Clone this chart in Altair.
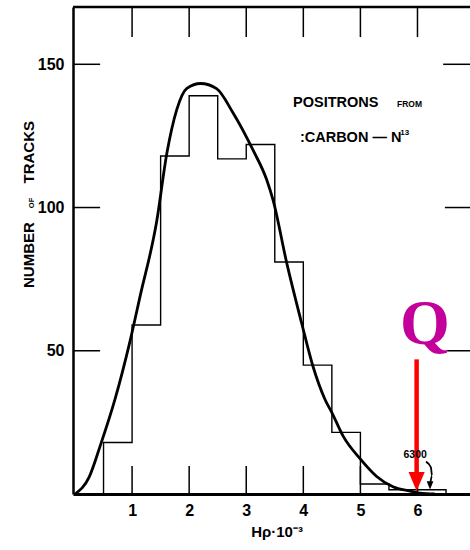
import altair as alt
import pandas as pd

# ---- data ----
bin_edges = [0.5, 1.0, 1.5, 2.0, 2.5, 3.0, 3.5, 4.0, 4.5, 5.0, 5.5, 6.0, 6.5]
bin_counts = [18, 59, 118, 139, 117, 122, 81, 45, 21.5, 3.5, 1.5, 1.5]

curve_x = [0.0, 0.25, 0.44, 0.7, 0.96, 1.14, 1.43, 1.61, 1.78, 1.96, 2.2, 2.48,
           2.77, 3.12, 3.36, 3.47, 3.71, 3.97, 4.17, 4.38, 4.5, 4.7, 4.99, 5.28,
           5.57, 5.87, 6.04, 6.3]
curve_y = [0.0, 6.0, 16.7, 33.0, 53.0, 69.0, 95.0, 119.0, 134.0, 141.6, 143.3, 141.5,
           133.0, 120.0, 109.6, 102.6, 80.6, 59.7, 44.5, 33.0, 28.4, 20.1, 12.4, 6.2,
           2.5, 1.0, 0.3, 0.0]

x_tick_labels = [1, 2, 3, 4, 5, 6]
y_tick_labels = [50, 100, 150]

X_DOMAIN = [-0.035, 6.92]
Y_DOMAIN = [0, 170]

FONT = "Liberation Sans"
xs = alt.Scale(domain=X_DOMAIN, nice=False, zero=False)
ys = alt.Scale(domain=Y_DOMAIN, nice=False, zero=False)

AX = alt.Axis(values=x_tick_labels, ticks=False, grid=False,
              domain=True, domainColor="black", domainWidth=3,
              labelFont=FONT, labelFontSize=16, labelFontWeight="bold",
              labelColor="black", labelPadding=8, labelAngle=0)
AY = alt.Axis(values=y_tick_labels, ticks=False, grid=False,
              domain=True, domainColor="black", domainWidth=2.5,
              labelFont=FONT, labelFontSize=16, labelFontWeight="bold",
              labelColor="black", labelPadding=9)


def X(field="x"):
    return alt.X(f"{field}:Q", scale=xs, axis=AX, title=None)


def Y(field="y"):
    return alt.Y(f"{field}:Q", scale=ys, axis=AY, title=None)


# ---- histogram outline (step) ----
step_x = [bin_edges[0]] + bin_edges
step_y = [0] + bin_counts + [0]
hist_df = pd.DataFrame({"x": step_x, "y": step_y, "i": list(range(len(step_x)))})
hist = alt.Chart(hist_df).mark_line(
    interpolate="step-after", color="black", strokeWidth=1.4
).encode(x=X(), y=Y(), order=alt.Order("i:Q"))

# ---- smooth curve ----
curve_df = pd.DataFrame({"x": curve_x, "y": curve_y})
curve = alt.Chart(curve_df).mark_line(
    interpolate="monotone", color="black", strokeWidth=2.8
).encode(x=X(), y=Y())

# ---- frame: top border and inward ticks ----
top_line = alt.Chart(pd.DataFrame({"x": [X_DOMAIN[0]], "x2": [X_DOMAIN[1]],
                                   "y": [Y_DOMAIN[1]]})).mark_rule(
    color="black", strokeWidth=2.5
).encode(x=X(), x2="x2:Q", y=Y())

vt_df = pd.DataFrame({
    "x": x_tick_labels + x_tick_labels,
    "y": [170] * 6 + [0] * 6,
    "y2": [159.5] * 6 + [9.8] * 6,
})
v_ticks = alt.Chart(vt_df).mark_rule(color="black", strokeWidth=1.5).encode(
    x=X(), y=Y(), y2="y2:Q")

ht_df = pd.DataFrame({
    "y": y_tick_labels + y_tick_labels,
    "x": [X_DOMAIN[0]] * 3 + [6.52, 6.48, 6.45],
    "x2": [0.44] * 3 + [X_DOMAIN[1]] * 3,
})
h_ticks = alt.Chart(ht_df).mark_rule(color="black", strokeWidth=1.5).encode(
    x=X(), x2="x2:Q", y=Y())


# ---- texts ----
def label(text, x, y, size, weight="bold", align="left", baseline="alphabetic",
          angle=0, font=FONT, color="black"):
    return alt.Chart(pd.DataFrame({"x": [x], "y": [y], "t": [text]})).mark_text(
        font=font, fontSize=size, fontWeight=weight, align=align,
        baseline=baseline, angle=angle, color=color
    ).encode(x=X(), y=Y(), text="t:N")


texts = [
    label("POSITRONS", 3.82, 135.0, 14.5),
    label("FROM", 5.64, 135.0, 8.5),
    label(":CARBON — N", 3.94, 122.8, 14.5),
    label("13", 5.70, 125.4, 8),
    label("NUMBER", -0.72, 83.4, 15, align="center", angle=270),
    label("OF", -0.72, 101.6, 7.5, align="center", angle=270),
    label("TRACKS", -0.72, 119.3, 15, align="center", angle=270),
    label("Hρ·10⁻³", 3.54, -15.0, 15, align="center"),
    label("6300", 5.96, 12.5, 10.5, align="center"),
    label("Q", 6.13, 52.5, 64, align="center",
          font="Liberation Serif", color="#c4009a"),
]

# ---- 6300 curved pointer ----
ptr_df = pd.DataFrame({"x": [6.15, 6.235, 6.255, 6.225], "y": [11.3, 9.3, 6.4, 3.8]})
pointer = alt.Chart(ptr_df).mark_line(
    interpolate="monotone", color="black", strokeWidth=1.8
).encode(x=X(), y=Y(), order=alt.Order("y:Q", sort="descending"))
ptr_head = alt.Chart(pd.DataFrame({"x": [6.22], "y": [3.0]})).mark_point(
    shape="M-0.8,-1L0.8,-1L0,1Z", size=70, filled=True, color="black", opacity=1
).encode(x=X(), y=Y())

# ---- red arrow ----
arrow_line = alt.Chart(pd.DataFrame({"x": [5.985], "y": [47.0], "y2": [6.0]})).mark_rule(
    color="#ff0000", strokeWidth=4.5
).encode(x=X(), y=Y(), y2="y2:Q")
arrow_head = alt.Chart(pd.DataFrame({"x": [5.985], "y": [4.4]})).mark_point(
    shape="M-0.85,-1L0.85,-1L0,1Z", size=361, filled=True, color="#ff0000", opacity=1
).encode(x=X(), y=Y())

chart = alt.layer(
    hist, curve, top_line, v_ticks, h_ticks, pointer, ptr_head,
    arrow_line, arrow_head, *texts
).properties(
    width=397, height=487,
    autosize=alt.AutoSizeParams(type="none"),
    padding={"left": 73, "top": 7, "right": 0, "bottom": 56},
    background="white",
).configure_view(stroke=None)

chart.save("out.html", embed_options={"renderer": "svg", "actions": False})
